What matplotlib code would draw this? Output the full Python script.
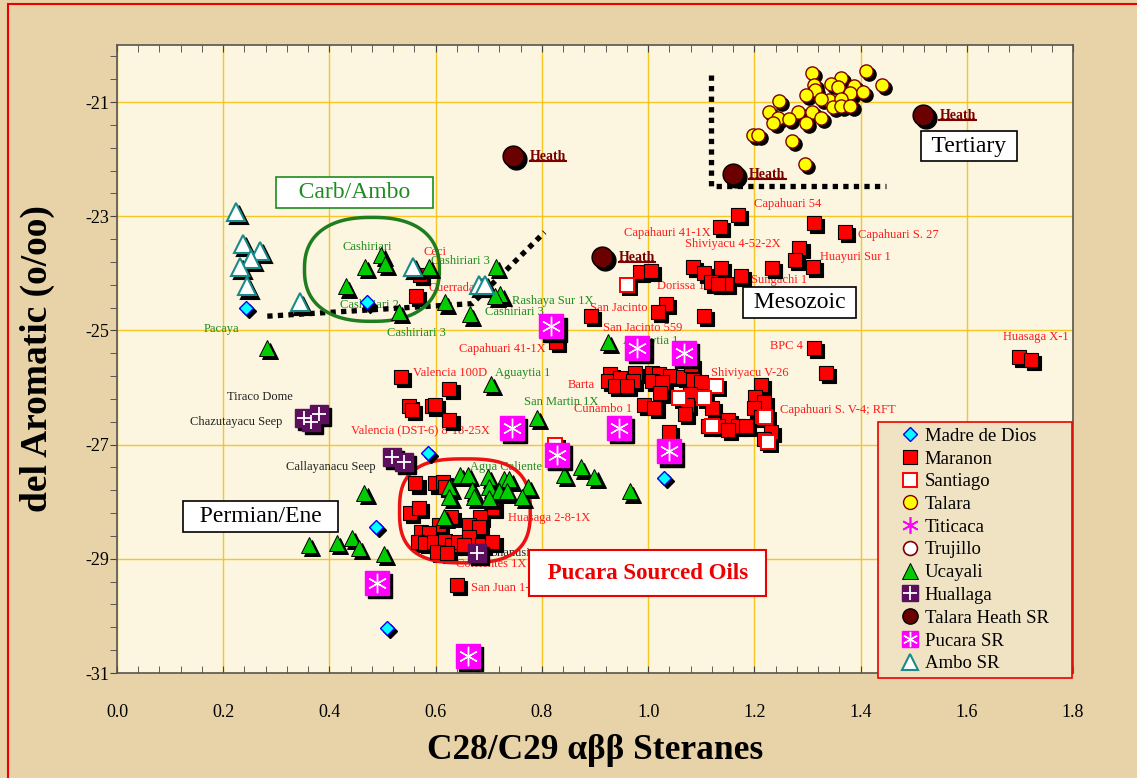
import numpy as np
import matplotlib.pyplot as plt
import matplotlib.transforms as mtransforms
from matplotlib.lines import Line2D
from matplotlib.path import Path
from matplotlib.patches import PathPatch, Rectangle
from matplotlib.ticker import MultipleLocator, FixedLocator

plt.rcParams['font.family'] = ['Liberation Serif', 'DejaVu Serif']
plt.rcParams['axes.unicode_minus'] = False

# ---- data ----
talara_x = [1.308, 1.410, 1.440, 1.363, 1.344, 1.357, 1.387, 1.312, 1.314, 1.297, 1.381,
            1.404, 1.340, 1.364, 1.325, 1.348, 1.364, 1.381, 1.246, 1.283, 1.308, 1.325,
            1.227, 1.244, 1.236, 1.266, 1.297, 1.197, 1.206, 1.270, 1.295]
talara_y = [-20.49, -20.46, -20.70, -20.58, -20.68, -20.74, -20.72, -20.70, -20.79, -20.88, -20.84,
            -20.82, -20.96, -20.95, -20.95, -21.09, -21.07, -21.07, -20.98, -21.18, -21.18, -21.28,
            -21.18, -21.28, -21.37, -21.30, -21.37, -21.58, -21.58, -21.68, -22.09]

heath_x = [0.746, 1.517, 1.159, 0.914]
heath_y = [-21.95, -21.23, -22.26, -23.72]

ambo_x = [0.224, 0.237, 0.270, 0.253, 0.232, 0.245, 0.345, 0.558, 0.682, 0.692]
ambo_y = [-22.93, -23.49, -23.61, -23.74, -23.89, -24.23, -24.51, -23.89, -24.21, -24.21]

mdd_x = [0.243, 0.471, 0.586, 0.488, 0.509, 1.029]
mdd_y = [-24.60, -24.51, -27.14, -28.44, -30.21, -27.58]

ucayali_x = [0.498, 0.467, 0.505, 0.432, 0.531, 0.588, 0.283, 0.618, 0.714, 0.722, 0.711,
             0.665, 0.925, 0.705, 0.790,
             0.645, 0.660, 0.699, 0.729, 0.739, 0.773, 0.626, 0.669, 0.701, 0.720, 0.626,
             0.673, 0.701, 0.735, 0.763, 0.616,
             0.873, 0.841, 0.899, 0.965,
             0.466, 0.415, 0.443, 0.456, 0.503, 0.362]
ucayali_y = [-23.67, -23.89, -23.84, -24.23, -24.68, -23.89, -25.30, -24.51, -23.89, -24.37, -24.40,
             -24.72, -25.21, -25.93, -26.53,
             -27.53, -27.53, -27.56, -27.61, -27.61, -27.74, -27.75, -27.79, -27.74, -27.82, -27.91,
             -27.91, -27.93, -27.82, -27.91, -28.26,
             -27.40, -27.53, -27.56, -27.82,
             -27.84, -28.72, -28.63, -28.81, -28.91, -28.75]

maranon_x = [1.169, 1.136, 1.312, 1.370, 1.285, 1.276, 1.310, 1.234, 1.174, 1.084, 1.105,
             1.138, 1.118, 1.146, 1.131, 0.984, 1.006, 1.033, 1.018, 1.106, 0.892, 1.312,
             1.334, 0.827, 0.563, 0.571, 1.698, 1.721,
             0.929, 0.925, 0.948, 0.937, 0.976, 0.971, 0.961, 1.008, 1.021, 1.042, 1.008,
             1.027, 1.065, 1.084, 1.099, 1.080, 1.023, 1.078, 1.074, 0.993, 1.012, 1.069,
             1.120, 1.150, 1.131, 1.112, 1.169, 1.184, 1.150, 1.212, 1.202, 1.219, 1.200,
             1.212, 1.231, 1.219, 1.040,
             0.535, 0.626, 0.550, 0.556, 0.594, 0.599, 0.626,
             0.562, 0.599, 0.613, 0.618, 0.552, 0.569, 0.628, 0.707, 0.684, 0.662, 0.682,
             0.607, 0.573, 0.588, 0.567, 0.580, 0.597, 0.618, 0.631, 0.642, 0.663, 0.654,
             0.603, 0.622, 0.688, 0.707, 0.641]
maranon_y = [-22.98, -23.18, -23.12, -23.28, -23.56, -23.77, -23.88, -23.91, -24.04, -23.88, -24.00,
             -23.91, -24.16, -24.19, -24.19, -23.98, -23.96, -24.53, -24.68, -24.74, -24.75, -25.30,
             -25.74, -25.21, -24.40, -24.02, -25.46, -25.51,
             -25.77, -25.89, -25.84, -25.98, -25.74, -25.89, -25.98, -25.74, -25.77, -25.79, -25.89,
             -25.91, -25.82, -25.86, -25.91, -25.60, -26.09, -26.12, -26.30, -26.30, -26.35, -26.47,
             -26.35, -26.56, -26.68, -26.68, -26.68, -26.67, -26.74, -25.95, -26.16, -26.25, -26.35,
             -26.51, -26.77, -26.91, -26.77,
             -25.82, -26.02, -26.33, -26.40, -26.33, -26.30, -26.56,
             -27.68, -27.68, -27.65, -27.74, -28.19, -28.11, -28.26, -28.11, -28.26, -28.40, -28.44,
             -28.40, -28.53, -28.54, -28.70, -28.72, -28.70, -28.68, -28.75, -28.70, -28.61, -28.75,
             -28.88, -28.89, -28.75, -28.70, -29.46]

santiago_x = [0.961, 1.127, 1.059, 1.106, 1.221, 1.120, 1.225, 0.824]
santiago_y = [-24.21, -25.98, -26.19, -26.19, -26.51, -26.67, -26.95, -27.00]

huallaga_x = [0.352, 0.381, 0.365, 0.518, 0.541, 0.678]
huallaga_y = [-26.54, -26.46, -26.60, -27.21, -27.30, -28.89]

pucara_x = [0.818, 0.980, 1.067, 0.744, 0.829, 0.946, 1.040, 0.490, 0.660]
pucara_y = [-24.93, -25.30, -25.40, -26.70, -27.18, -26.70, -27.12, -29.42, -30.70]

red_labels = ["Ceci", "Querrada", "Capahuari 41-1X", "Valencia 100D", "Valencia (DST-6) 8-18-25X",
              "Huasaga 2-8-1X", "Corrientes 1X", "San Juan 1-X", "San Jacinto", "San Jacinto 559",
              "Capahauri 41-1X", "Shiviyacu 4-52-2X", "Dorissa 1", "Sungachi 1", "Capahuari 54",
              "Capahuari S. 27", "Huayuri Sur 1", "BPC 4", "Shiviyacu V-26", "Capahuari S. V-4; RFT",
              "Barta", "Cunambo 1", "Huasaga X-1"]
red_label_x = [0.577, 0.586, 0.643, 0.558, 0.441, 0.737, 0.639, 0.667, 0.890, 0.916, 0.955, 1.070,
               1.016, 1.193, 1.200, 1.395, 1.323, 1.229, 1.119, 1.248, 0.848, 0.861, 1.668]
red_label_y = [-23.63, -24.25, -25.32, -25.74, -26.75, -28.28, -29.09, -29.51, -24.60, -24.95, -23.30,
               -23.49, -24.23, -24.12, -22.79, -23.32, -23.72, -25.28, -25.75, -26.40, -25.96, -26.37, -25.12]

green_labels = ["Cashiriari", "Cashiriari 3", "Cashiriari 2", "Cashiriari 3", "Cashiriari 3",
                "Rashaya Sur 1X", "Pacaya", "Aguaytia 1", "Aguaytia 1", "San Martin 1X", "Agua Caliente 1x"]
green_label_x = [0.424, 0.592, 0.420, 0.509, 0.692, 0.743, 0.164, 0.711, 0.952, 0.767, 0.665]
green_label_y = [-23.53, -23.79, -24.56, -25.04, -24.68, -24.49, -24.98, -25.74, -25.18, -26.26, -27.39]

black_labels = ["Tiraco Dome", "Chazutayacu Seep", "Callayanacu Seep", "Shanusi"]
black_label_x = [0.207, 0.138, 0.318, 0.703]
black_label_y = [-26.16, -26.60, -27.40, -28.89]

# boundary lines and outlined groups
carb_line_x = [0.283, 0.669, 0.805]
carb_line_y = [-24.75, -24.53, -23.28]
tert_line_x = [1.118, 1.118, 1.447]
tert_line_y = [-20.53, -22.47, -22.47]

fig = plt.figure(figsize=(11.37, 7.78), dpi=100)
fig.patch.set_facecolor('#E7D3A7')
ax = fig.add_axes([117 / 1137, 105 / 778, 956 / 1137, 628 / 778])
ax.set_facecolor('#FCF5DF')
ax.set_xlim(0, 1.8)
ax.set_ylim(-31, -20)
ax.set_xticks(np.arange(0, 1.81, 0.2))
ax.set_xticklabels(['%.1f' % v for v in np.arange(0, 1.81, 0.2)])
ax.set_yticks(np.arange(-31, -20.5, 2))
ax.xaxis.set_minor_locator(MultipleLocator(0.04))
ax.yaxis.set_minor_locator(FixedLocator(np.arange(-31, -19.9, 0.4)))
ax.tick_params(axis='x', which='both', top=True, bottom=True, direction='in', length=5,
               labelsize=13, color='#444444')
ax.tick_params(axis='x', which='major', pad=22)
ax.tick_params(axis='y', which='both', direction='out', length=5, labelsize=13, color='#444444')
ax.tick_params(axis='y', which='major', pad=0.5)
ax.grid(True, which='major', color='#F6C723', lw=1.0)
ax.set_axisbelow(True)
for s in ax.spines.values():
    s.set_color('#555555')
    s.set_linewidth(1.2)

ax.set_xlabel('C28/C29 αββ Steranes', fontsize=25.5, fontweight='bold', labelpad=10)
ax.set_ylabel('del Aromatic (o/oo)', fontsize=27, fontweight='bold', labelpad=22)

shadow = ax.transData + mtransforms.ScaledTranslation(2.2 / 72, -2.2 / 72, fig.dpi_scale_trans)


def series(x, y, marker, ms, face, edge, mew=1.0, z=3):
    ax.plot(x, y, ls='none', marker=marker, ms=ms, mfc='black', mec='black', mew=mew,
            transform=shadow, zorder=z - 0.5)
    ax.plot(x, y, ls='none', marker=marker, ms=ms, mfc=face, mec=edge, mew=mew, zorder=z)


series(talara_x, talara_y, 'o', 9.5, '#FFFF00', '#800000', z=3)
series(maranon_x, maranon_y, 's', 9.5, '#FF0000', 'black', mew=0.8, z=4)
series(santiago_x, santiago_y, 's', 9.5, 'white', '#FF0000', mew=1.4, z=4.2)
series(ucayali_x, ucayali_y, '^', 11, '#00CC00', 'black', mew=0.7, z=5)
series(ambo_x, ambo_y, '^', 13, 'white', '#1A8A8A', mew=1.5, z=5.2)
series(mdd_x, mdd_y, 'D', 7, '#00FFFF', '#0000FF', mew=1.0, z=5.4)
series(huallaga_x, huallaga_y, 's', 13, '#5C0F5C', '#5C0F5C', z=6)
ax.plot(huallaga_x, huallaga_y, ls='none', marker='+', ms=10, mec='white', mew=1.3, zorder=6.1)
series(pucara_x, pucara_y, 's', 17, '#FF00FF', '#FF00FF', z=6.5)
ax.plot(pucara_x, pucara_y, ls='none', marker=(6, 2, 0), ms=14, mec='white', mew=1.0, zorder=6.6)
series(heath_x, heath_y, 'o', 15, '#6A0000', 'black', z=7)

# data labels
for t, x, y in zip(red_labels, red_label_x, red_label_y):
    ax.text(x, y, t, color='#FF1A1A', fontsize=9, ha='left', va='center', zorder=2.5)
for t, x, y in zip(green_labels, green_label_x, green_label_y):
    ax.text(x, y, t, color='#1E8C1E', fontsize=9, ha='left', va='center', zorder=2.5)
for t, x, y in zip(black_labels, black_label_x, black_label_y):
    ax.text(x, y, t, color='#222222', fontsize=9, ha='left', va='center', zorder=2.5)
heath_texts = []
for x, y in zip(heath_x, heath_y):
    heath_texts.append(ax.annotate('Heath', (x, y), xytext=(12, 0), textcoords='offset points',
                                   color='#7A0000', fontsize=10, fontweight='bold',
                                   ha='left', va='center', zorder=8))

# dotted boundaries
for lx, ly in [(carb_line_x, carb_line_y), (tert_line_x, tert_line_y)]:
    ax.plot(lx, ly, color='black', lw=3.8, ls=(0, (1, 1)), dash_capstyle='butt', zorder=3.5)


def blob(cx, cy, a, b, n):
    t = np.linspace(0, 2 * np.pi, 240)
    c, s = np.cos(t), np.sin(t)
    px = cx + a * np.sign(c) * np.abs(c) ** (2 / n)
    py = cy + b * np.sign(s) * np.abs(s) ** (2 / n)
    return Path(np.column_stack([px, py]), closed=True)


ax.add_patch(PathPatch(blob(0.480, -23.93, 0.127, 0.91, 2.4), fc='none', ec='#1E7D1E', lw=2.5, zorder=3.6))
ax.add_patch(PathPatch(blob(0.655, -28.16, 0.123, 0.91, 2.8), fc='none', ec='#EE1111', lw=2.5, zorder=3.6))

# region boxes
box = dict(boxstyle='square,pad=0.2', fc='white', ec='black', lw=1.2)
ax.text(0.447, -22.58, '   Carb/Ambo   ', color='#1E8C1E', fontsize=17, ha='center', va='center',
        bbox=dict(box, ec='#1E8C1E'), zorder=9)
ax.text(1.604, -21.77, ' Tertiary ', color='black', fontsize=17, ha='center', va='center', bbox=box, zorder=9)
ax.text(1.285, -24.51, ' Mesozoic ', color='black', fontsize=17, ha='center', va='center', bbox=box, zorder=9)
ax.text(0.271, -28.26, '  Permian/Ene  ', color='black', fontsize=17, ha='center', va='center', bbox=box, zorder=9)
ax.text(0.999, -29.25, ' Pucara Sourced Oils ', color='#EE0000', fontsize=16.5, fontweight='bold',
        ha='center', va='center', bbox=dict(boxstyle='square,pad=0.55', fc='white', ec='#EE0000', lw=1.5),
        zorder=9)

# legend handles (uniform small symbols as in the original key)
def key(marker, ms, face, edge, mew=1.0):
    return Line2D([], [], ls='none', marker=marker, ms=ms, mfc=face, mec=edge, mew=mew)


handles = [key('D', 7, '#00FFFF', '#0000FF'),
           key('s', 9.5, '#FF0000', 'black', 0.8),
           key('s', 9.5, 'white', '#FF0000', 1.4),
           key('o', 10, '#FFFF00', '#800000'),
           key((6, 2, 0), 12, 'none', '#FF00FF', 1.2),
           key('o', 10, 'white', '#800000', 1.2),
           key('^', 11, '#00CC00', 'black', 0.7),
           (key('s', 12, '#5C0F5C', '#5C0F5C'), key('+', 10, 'none', 'white', 1.3)),
           key('o', 11, '#6A0000', 'black'),
           (key('s', 12, '#FF00FF', '#FF00FF'), key((6, 2, 0), 11, 'none', 'white', 1.0)),
           key('^', 11, 'white', '#1A8A8A', 1.5)]
labels = ['Madre de Dios', 'Maranon', 'Santiago', 'Talara', 'Titicaca', 'Trujillo', 'Ucayali',
          'Huallaga', 'Talara Heath SR', 'Pucara SR', 'Ambo SR']
leg = fig.legend(handles, labels, loc='upper left',
                 bbox_to_anchor=(878 / 1137, 0.1, 194 / 1137, 1 - 422 / 778 - 0.1),
                 mode='expand', frameon=True, fancybox=False, edgecolor='#EE0000', facecolor='#EFE3C4',
                 framealpha=1, prop={'size': 13.5}, labelspacing=0.3, handlelength=2.8,
                 handletextpad=-0.6, borderpad=0.3, borderaxespad=0)
leg.get_frame().set_linewidth(1.2)
leg.set_zorder(10)

# outer red frame
fig.add_artist(Rectangle((8 / 1137, -0.1), 1.2, 1.1 - 4 / 778, transform=fig.transFigure,
                         fc='none', ec='#EE0000', lw=1.5))

# underline the Heath labels
fig.canvas.draw()
r = fig.canvas.get_renderer()
inv = fig.transFigure.inverted()
for t in heath_texts:
    bb = t.get_window_extent(r)
    (x0, y0), (x1, _) = inv.transform([(bb.x0, bb.y0 + 1.5), (bb.x1, bb.y0)])
    fig.add_artist(Line2D([x0, x1], [y0, y0], transform=fig.transFigure, color='#7A0000', lw=1.5))

fig.savefig('out.png', dpi=100, facecolor=fig.get_facecolor())
